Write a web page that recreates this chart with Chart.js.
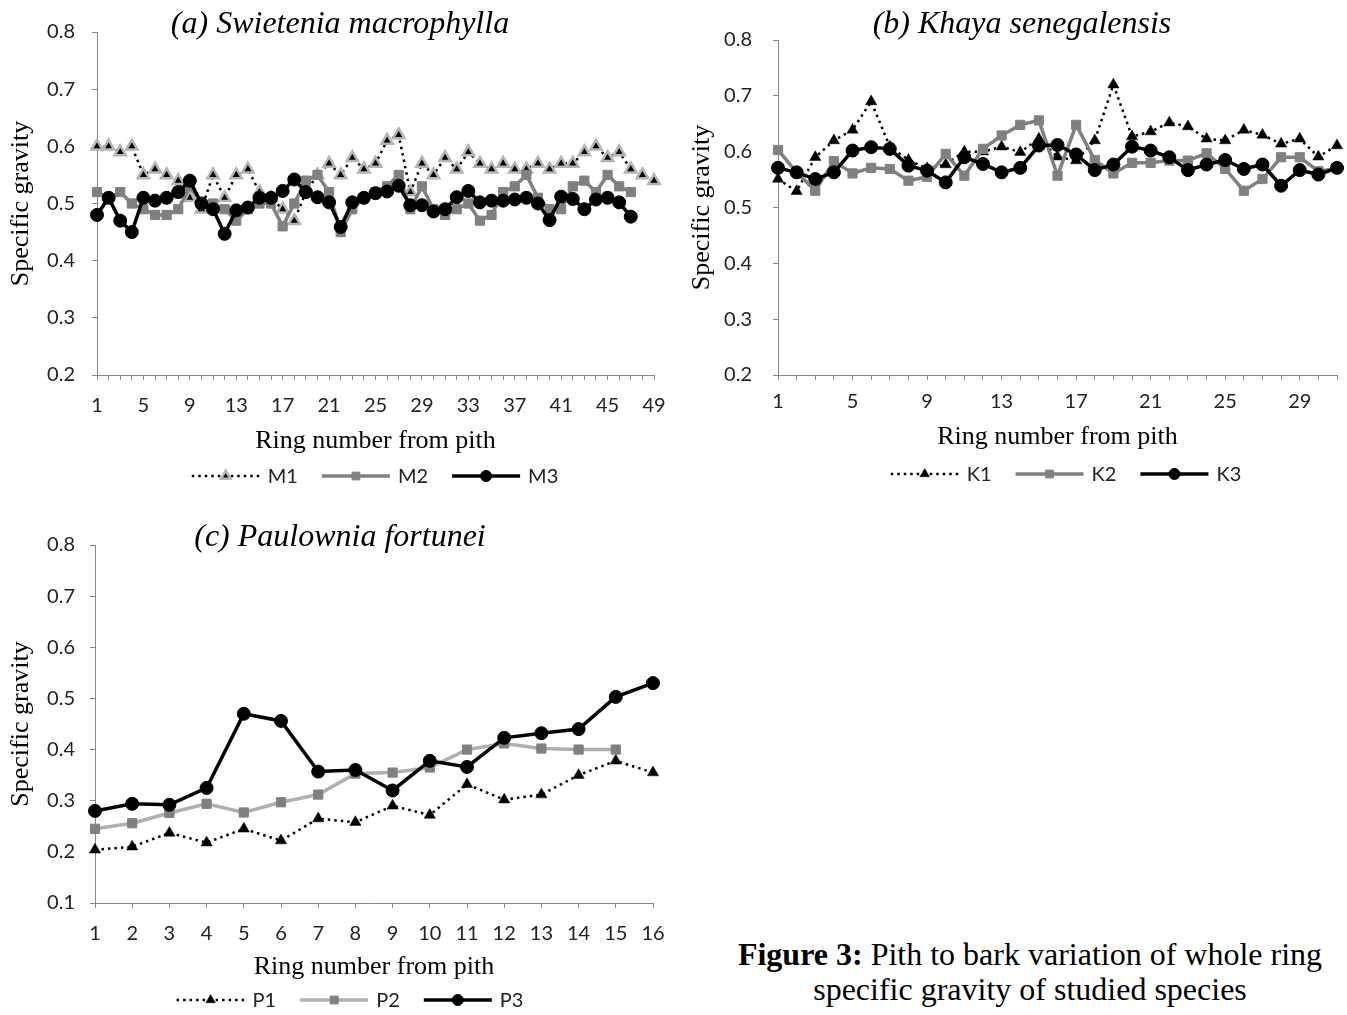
<!DOCTYPE html>
<html>
<head>
<meta charset="utf-8">
<title>Figure 3</title>
<script src="https://cdn.jsdelivr.net/npm/chart.js@4.4.1/dist/chart.umd.min.js"></script>
<style>
  body { margin: 0; background: #fff; width: 1347px; height: 1015px; position: relative; overflow: hidden; }
  canvas { position: absolute; }
  #caption {
    position: absolute; left: 700px; top: 937px; width: 660px;
    text-align: center; color: #000;
    font-family: "Liberation Serif", "Times New Roman", serif;
    font-size: 32px; line-height: 35px;
  }
</style>
</head>
<body>
<canvas id="chartA" width="680" height="500" style="left:0;top:0"></canvas>
<canvas id="chartB" width="667" height="500" style="left:680px;top:0"></canvas>
<canvas id="chartC" width="680" height="515" style="left:0;top:500px"></canvas>
<div id="caption"><b>Figure 3:</b> Pith to bark variation of whole ring<br>specific gravity of studied species</div>

<script>
// ring numbers (categories)
const ringsA = [1, 2, 3, 4, 5, 6, 7, 8, 9, 10, 11, 12, 13, 14, 15, 16, 17, 18, 19, 20, 21, 22, 23, 24, 25,
  26, 27, 28, 29, 30, 31, 32, 33, 34, 35, 36, 37, 38, 39, 40, 41, 42, 43, 44, 45, 46, 47, 48, 49];
const ringsB = [1, 2, 3, 4, 5, 6, 7, 8, 9, 10, 11, 12, 13, 14, 15, 16, 17, 18, 19, 20, 21, 22, 23, 24, 25,
  26, 27, 28, 29, 30, 31];
const ringsC = [1, 2, 3, 4, 5, 6, 7, 8, 9, 10, 11, 12, 13, 14, 15, 16];

// rings that carry a tick label
const labelledA = [1, 5, 9, 13, 17, 21, 25, 29, 33, 37, 41, 45, 49];
const labelledB = [1, 5, 9, 13, 17, 21, 25, 29];

// (a) Swietenia macrophylla
const m1 = [0.60, 0.60, 0.59, 0.60, 0.55, 0.56, 0.55, 0.54, 0.51, 0.49,
  0.55, 0.51, 0.55, 0.56, 0.52, 0.51, 0.49, 0.47, 0.52, 0.55,
  0.57, 0.55, 0.58, 0.56, 0.57, 0.61, 0.62, 0.52, 0.57, 0.55,
  0.58, 0.56, 0.59, 0.57, 0.56, 0.57, 0.56, 0.56, 0.57, 0.56,
  0.57, 0.57, 0.59, 0.60, 0.58, 0.59, 0.56, 0.55, 0.54];
const m2 = [0.52, 0.51, 0.52, 0.50, 0.49, 0.48, 0.48, 0.49, 0.53, 0.50,
  0.50, 0.49, 0.47, 0.49, 0.50, 0.50, 0.46, 0.50, 0.54, 0.55,
  0.52, 0.45, 0.49, 0.51, 0.52, 0.53, 0.55, 0.49, 0.53, 0.49,
  0.48, 0.49, 0.50, 0.47, 0.48, 0.52, 0.53, 0.55, 0.51, 0.49,
  0.49, 0.53, 0.54, 0.52, 0.55, 0.53, 0.52];
const m3 = [0.48, 0.51, 0.47, 0.45, 0.51, 0.505, 0.51, 0.52, 0.54, 0.50,
  0.49, 0.447, 0.488, 0.493, 0.51, 0.51, 0.522, 0.542, 0.52, 0.511,
  0.502, 0.459, 0.502, 0.51, 0.518, 0.521, 0.531, 0.497, 0.497, 0.486,
  0.49, 0.511, 0.522, 0.502, 0.505, 0.505, 0.507, 0.51, 0.50, 0.471,
  0.512, 0.508, 0.49, 0.507, 0.51, 0.502, 0.477];

// (b) Khaya senegalensis
const k1 = [0.551, 0.529, 0.59, 0.62, 0.639, 0.69, 0.609, 0.585, 0.57, 0.577,
  0.60, 0.60, 0.609, 0.599, 0.623, 0.591, 0.584, 0.62, 0.72, 0.627,
  0.636, 0.652, 0.645, 0.623, 0.62, 0.639, 0.63, 0.614, 0.623, 0.591, 0.611];
const k2 = [0.603, 0.563, 0.53, 0.583, 0.561, 0.571, 0.569, 0.548, 0.555, 0.596,
  0.557, 0.605, 0.629, 0.648, 0.656, 0.557, 0.648, 0.585, 0.561, 0.58,
  0.58, 0.584, 0.584, 0.597, 0.569, 0.53, 0.551, 0.59, 0.59, 0.565, 0.57];
const k3 = [0.571, 0.563, 0.551, 0.563, 0.602, 0.608, 0.605, 0.575, 0.566, 0.545,
  0.59, 0.578, 0.563, 0.571, 0.611, 0.612, 0.595, 0.567, 0.577, 0.609,
  0.602, 0.59, 0.567, 0.577, 0.585, 0.569, 0.577, 0.539, 0.567, 0.559, 0.571];

// (c) Paulownia fortunei
const p1 = [0.204, 0.21, 0.237, 0.218, 0.245, 0.222, 0.265, 0.258, 0.29, 0.272,
  0.332, 0.302, 0.312, 0.35, 0.378, 0.355];
const p2 = [0.245, 0.256, 0.276, 0.294, 0.277, 0.297, 0.312, 0.353, 0.355, 0.365,
  0.40, 0.412, 0.402, 0.40, 0.40];
const p3 = [0.28, 0.294, 0.292, 0.325, 0.47, 0.456, 0.357, 0.36, 0.32, 0.378,
  0.366, 0.423, 0.432, 0.44, 0.503, 0.53];

const SERIF = '"Liberation Serif", "Times New Roman", serif';
const SANS = 'Lato, "Liberation Sans", sans-serif';
const AXIS_GREY = '#868686';

// title drawn over the top of the plot, and an Excel style legend
const sheetText = {
  id: 'sheetText',
  afterDraw(chart, args, opts) {
    const ctx = chart.ctx;
    ctx.save();
    ctx.fillStyle = '#000';
    ctx.font = 'italic 32px ' + SERIF;
    ctx.textAlign = 'center';
    ctx.textBaseline = 'middle';
    ctx.fillText(opts.title, opts.titleX, opts.titleY);

    // legend
    ctx.font = '20px ' + SANS;
    const lineLen = 68, gap = 8, spacing = 24;
    const sets = chart.data.datasets;
    let total = 0;
    sets.forEach((ds, i) => {
      total += lineLen + gap + ctx.measureText(ds.label).width;
      if (i < sets.length - 1) total += spacing;
    });
    let x = opts.legendX - total / 2;
    const y = opts.legendY;
    sets.forEach((ds) => {
      ctx.save();
      ctx.strokeStyle = ds.borderColor;
      ctx.lineWidth = ds.borderWidth;
      ctx.setLineDash(ds.borderDash || []);
      ctx.beginPath();
      ctx.moveTo(x, y);
      ctx.lineTo(x + lineLen, y);
      ctx.stroke();
      ctx.setLineDash([]);
      ctx.fillStyle = ds.pointBackgroundColor;
      ctx.strokeStyle = ds.pointBorderColor;
      ctx.lineWidth = ds.pointBorderWidth;
      Chart.helpers.drawPoint(ctx, {
        pointStyle: ds.pointStyle, radius: ds.pointRadius - 1, rotation: 0, borderWidth: ds.pointBorderWidth
      }, x + lineLen / 2, y);
      ctx.restore();
      x += lineLen + gap;
      ctx.textAlign = 'left';
      ctx.fillStyle = '#222';
      ctx.fillText(ds.label, x, y + 1);
      x += ctx.measureText(ds.label).width + spacing;
    });
    ctx.restore();
  }
};

function dotted(label, data, marker) {
  return {
    label: label, data: data, order: 3,
    borderColor: '#000', borderWidth: 2.5, borderDash: [2.5, 4],
    pointStyle: 'triangle', pointRadius: 6.5,
    pointBackgroundColor: '#000', pointBorderColor: marker, pointBorderWidth: marker === '#000' ? 0.5 : 2.5
  };
}

function squares(label, data, lineColour) {
  return {
    label: label, data: data, order: 2,
    borderColor: lineColour, borderWidth: 3.5,
    pointStyle: 'rect', pointRadius: 6.5,
    pointBackgroundColor: '#808080', pointBorderColor: '#808080', pointBorderWidth: 1
  };
}

function circles(label, data) {
  return {
    label: label, data: data, order: 1,
    borderColor: '#000', borderWidth: 3.5,
    pointStyle: 'circle', pointRadius: 6.5,
    pointBackgroundColor: '#000', pointBorderColor: '#000', pointBorderWidth: 1
  };
}

function makeChart(id, s) {
  return new Chart(document.getElementById(id), {
    type: 'line',
    data: { labels: s.rings, datasets: s.datasets },
    plugins: [sheetText],
    options: {
      responsive: false,
      animation: false,
      events: [],
      layout: { padding: s.padding },
      elements: { line: { tension: 0 } },
      datasets: { line: { clip: false } },
      plugins: {
        legend: { display: false },
        tooltip: { enabled: false },
        sheetText: s.text
      },
      scales: {
        x: {
          offset: false,
          afterFit: (sc) => { sc.height = s.xHeight; },
          border: { display: true, color: AXIS_GREY, width: 1 },
          grid: { drawOnChartArea: false, drawTicks: true, tickLength: 5, color: AXIS_GREY },
          ticks: {
            autoSkip: false, maxRotation: 0, padding: s.xPad, color: '#222',
            font: { family: SANS, size: 20 },
            callback: function (v, i) {
              const r = s.rings[i];
              return (!s.labelled || s.labelled.includes(r)) ? String(r) : '';
            }
          },
          title: {
            display: true, text: 'Ring number from pith', color: '#000',
            font: { family: SERIF, size: 26, lineHeight: 1.2 },
            padding: { top: 0, bottom: s.xTitlePad }
          }
        },
        y: {
          min: s.yMin, max: 0.8,
          afterFit: (sc) => { sc.width = s.yWidth; },
          border: { display: true, color: AXIS_GREY, width: 1 },
          grid: { drawOnChartArea: false, drawTicks: true, tickLength: 5, color: AXIS_GREY },
          ticks: {
            stepSize: 0.1, padding: s.yPad, color: '#222',
            font: { family: SANS, size: 20 },
            callback: (v) => v.toFixed(1)
          },
          title: {
            display: true, text: 'Specific gravity', color: '#000',
            font: { family: SERIF, size: 26, lineHeight: 1.2 },
            padding: { top: s.yTitlePad, bottom: 0 }
          }
        }
      }
    }
  });
}

makeChart('chartA', {
  rings: ringsA, labelled: labelledA, yMin: 0.2,
  datasets: [dotted('M1', m1, '#b4b4b4'), squares('M2', m2, '#808080'), circles('M3', m3)],
  padding: { top: 32, right: 26, left: 0, bottom: 0 },
  xHeight: 125, yWidth: 97, xPad: 14, xTitlePad: 43, yPad: 17, yTitlePad: 6,
  text: { title: '(a) Swietenia macrophylla', titleX: 340, titleY: 25, legendX: 375, legendY: 476 }
});

makeChart('chartB', {
  rings: ringsB, labelled: labelledB, yMin: 0.2,
  datasets: [dotted('K1', k1, '#000'), squares('K2', k2, '#808080'), circles('K3', k3)],
  padding: { top: 40, right: 9, left: 0, bottom: 0 },
  xHeight: 125, yWidth: 98, xPad: 10, xTitlePad: 47, yPad: 21, yTitlePad: 7,
  text: { title: '(b) Khaya senegalensis', titleX: 342, titleY: 25, legendX: 386, legendY: 474 }
});

makeChart('chartC', {
  rings: ringsC, labelled: null, yMin: 0.1,
  datasets: [dotted('P1', p1, '#000'), squares('P2', p2, '#b0b0b0'), circles('P3', p3)],
  padding: { top: 45, right: 27, left: 0, bottom: 0 },
  xHeight: 112, yWidth: 95, xPad: 14, xTitlePad: 32, yPad: 15, yTitlePad: 6,
  text: { title: '(c) Paulownia fortunei', titleX: 340, titleY: 38, legendX: 350, legendY: 500 }
});
</script>
</body>
</html>
